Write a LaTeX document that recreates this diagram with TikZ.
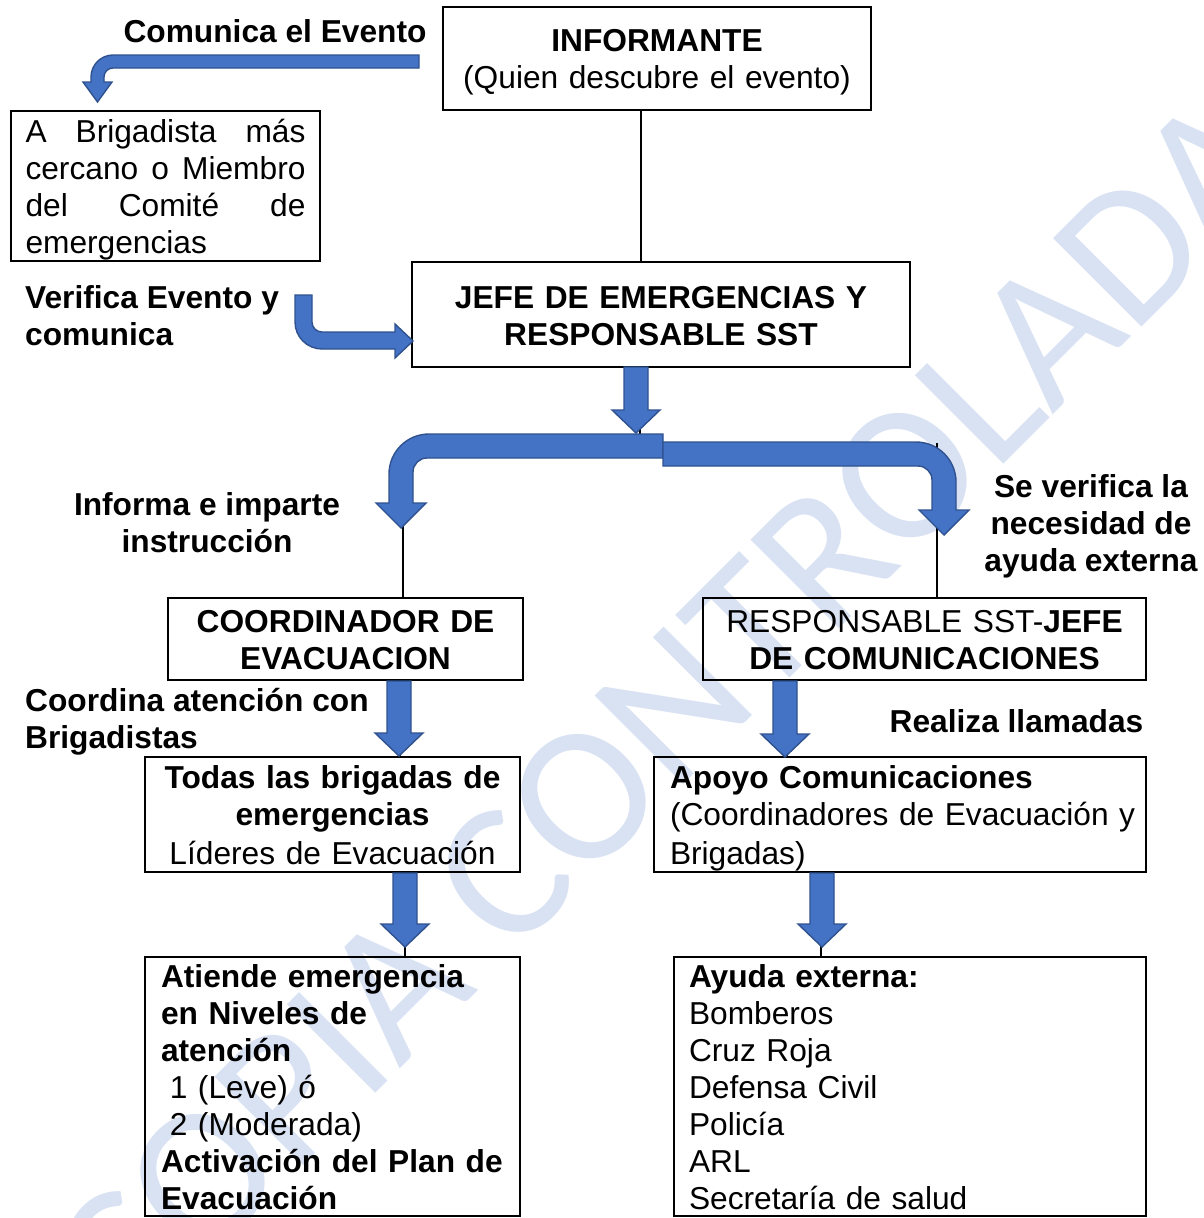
\documentclass[tikz,border=0pt]{standalone}
\usepackage{fontspec}
\setmainfont{Liberation Sans}
\newfontfamily\wmfont{Carlito}
\definecolor{arrowblue}{RGB}{68,114,196}
\definecolor{arrowedge}{RGB}{47,82,143}
\definecolor{wmblue}{RGB}{217,226,243}
\newcommand\fs{\fontsize{31.7}{37}\selectfont}
\newcommand\hs{\rule[-6.5pt]{0pt}{37pt}}
\newcommand\jline[1]{\leavevmode\hbox to 280pt{#1}}
\newcommand\bdown[3]{%
  \draw[blockarrow] (#1-12,#2) -- (#1+12,#2) -- (#1+12,#3-23) -- (#1+24,#3-23)
    -- (#1,#3) -- (#1-24,#3-23) -- (#1-12,#3-23) -- cycle;}
\begin{document}
\begin{tikzpicture}[x=1pt,y=-1pt,
  box/.style={draw, line width=2.6pt, inner ysep=0pt, font=\fs,
    execute at begin node=\hs, execute at end node=\hs},
  lbl/.style={inner sep=0pt, font=\fs\bfseries,
    execute at begin node=\hs, execute at end node=\hs},
  conn/.style={draw, line width=2.6pt},
  blockarrow/.style={fill=arrowblue, draw=arrowedge, line width=1.4pt, line join=miter},
  wm/.style={rotate=45, text=wmblue, inner sep=0pt, font=\wmfont\fontsize{195}{195}\selectfont}]
\useasboundingbox (0,0) rectangle (1204,1218);

% watermark
\begin{scope}
\clip (0,0) rectangle (1204,1218);
\node[wm] (wmk) at (668,712) {COPIA CONTROLADA};
\end{scope}

% boxes
\node[box, align=center, text width=408pt, inner xsep=10pt, minimum width=428pt, minimum height=103pt]
  (inf) at (657,58.5) {\textbf{INFORMANTE}\\(Quien descubre el evento)};
\node[box, align=left, text width=280pt, inner xsep=14.5pt, minimum width=309pt, minimum height=150pt]
  (brig) at (165.5,186) {\jline{A\hfill Brigadista\hfill más}\\
  \jline{cercano\hfill o\hfill Miembro}\\
  \jline{del\hfill Comité\hfill de}\\emergencias};
\node[box, align=center, text width=478pt, inner xsep=10pt, minimum width=498pt, minimum height=105pt]
  (jefe) at (661,314.5) {\textbf{JEFE DE EMERGENCIAS Y}\\\textbf{RESPONSABLE SST}};
\node[box, align=center, text width=335pt, inner xsep=10pt, minimum width=355pt, minimum height=82pt]
  (coord) at (345.5,639) {\textbf{COORDINADOR DE}\\\textbf{EVACUACION}};
\node[box, align=center, text width=423pt, inner xsep=10pt, minimum width=443pt, minimum height=82pt]
  (resp) at (924.5,639) {RESPONSABLE SST-\textbf{JEFE}\\\textbf{DE COMUNICACIONES}};
\node[box, align=center, text width=355pt, inner xsep=10pt, minimum width=375pt, minimum height=115pt]
  (todas) at (332.5,814.5) {\textbf{Todas las brigadas de}\\\textbf{emergencias}\\Líderes de Evacuación};
\node[box, align=left, text width=460pt, inner xsep=16pt, minimum width=492pt, minimum height=115pt]
  (apoyo) at (900,814.5) {\mbox{\textbf{Apoyo Comunicaciones}}\\\mbox{(Coordinadores de Evacuación y}\\Brigadas)};
\node[box, align=left, text width=343pt, inner xsep=16pt, minimum width=375pt, minimum height=259pt]
  (ati) at (332.5,1086.5) {\mbox{\textbf{Atiende emergencia}}\\\mbox{\textbf{en Niveles de}}\\\textbf{atención}\\
  \mbox{\hspace*{0.278em}1 (Leve) ó}\\\mbox{\hspace*{0.278em}2 (Moderada)}\\\mbox{\textbf{Activación del Plan de}}\\\textbf{Evacuación}};
\node[box, align=left, text width=442pt, inner xsep=15pt, minimum width=472pt, minimum height=259pt]
  (ayu) at (910,1086.5) {\textbf{Ayuda externa:}\\Bomberos\\Cruz Roja\\Defensa Civil\\Policía\\ARL\\Secretaría de salud};

% black connectors
\coordinate (splitc) at (640,434);
\coordinate (splitl) at (403,450);
\coordinate (splitr) at (937,443);
\draw[conn] ([xshift=-16pt]inf.south) -- ([xshift=-20pt]jefe.north);
\draw[conn] ([xshift=-21pt]jefe.south) -- (splitc);
\draw[conn] (splitl) -- ([xshift=57.5pt]coord.north);
\draw[conn] (splitr) -- ([xshift=12.5pt]resp.north);
\draw[conn] ([xshift=54.5pt]coord.south) -- ([xshift=67.5pt]todas.north);
\draw[conn] ([xshift=-137.5pt]resp.south) -- ([xshift=-113pt]apoyo.north);
\draw[conn] ([xshift=72.5pt]todas.south) -- ([xshift=72.5pt]ati.north);
\draw[conn] ([xshift=-79pt]apoyo.south) -- ([xshift=-89pt]ayu.north);

% blue block arrows
% Comunica el Evento
\draw[blockarrow] (419,55) -- (113,55) .. controls (100.9,55) and (91,64.9) .. (91,77)
  -- (91,82) -- (83,82) -- (97.5,102) -- (112,82) -- (104,82) -- (104,77)
  .. controls (104,72) and (108,68) .. (113,68) -- (419,68) -- cycle;
% Verifica Evento
\draw[blockarrow] (295,295) -- (295,322) .. controls (295,336.9) and (307.1,349) .. (322,349)
  -- (395,349) -- (395,358) -- (413,341) -- (395,324) -- (395,332) -- (322,332)
  .. controls (316.5,332) and (312,327.5) .. (312,322) -- (312,295) -- cycle;
% split left
\draw[blockarrow] (663,434) -- (429,434) .. controls (406.9,434) and (389,451.9) .. (389,474)
  -- (389,503) -- (376,503) -- (401,528) -- (426,503) -- (413,503) -- (413,472)
  .. controls (413,464.3) and (419.3,458) .. (427,458) -- (663,458) -- cycle;
% split right
\draw[blockarrow] (663,442) -- (916,442) .. controls (938.1,442) and (956,459.9) .. (956,482)
  -- (956,510) -- (969,510) -- (944,535) -- (919,510) -- (932,510) -- (932,480)
  .. controls (932,472.3) and (925.7,466) .. (918,466) -- (663,466) -- cycle;
% straight down arrows
\bdown{636}{367}{433}
\bdown{399}{681}{756}
\bdown{785}{681}{757}
\bdown{405}{873}{947}
\bdown{822}{873}{947}

% labels
\node[lbl] (l1) at (275,30) {Comunica el Evento};
\node[lbl, align=left, anchor=west] (l2) at (25,318.5) {Verifica Evento y\\comunica};
\node[lbl, align=center] (l3) at (207,525.5) {Informa e imparte\\instrucción};
\node[lbl, align=center] (l4) at (1091,526) {Se verifica la\\necesidad de\\ayuda externa};
\node[lbl, align=left, anchor=west] (l5) at (25,721.5) {Coordina atención con\\Brigadistas};
\node[lbl] (l6) at (1016.5,720) {Realiza llamadas};
\end{tikzpicture}
\end{document}
